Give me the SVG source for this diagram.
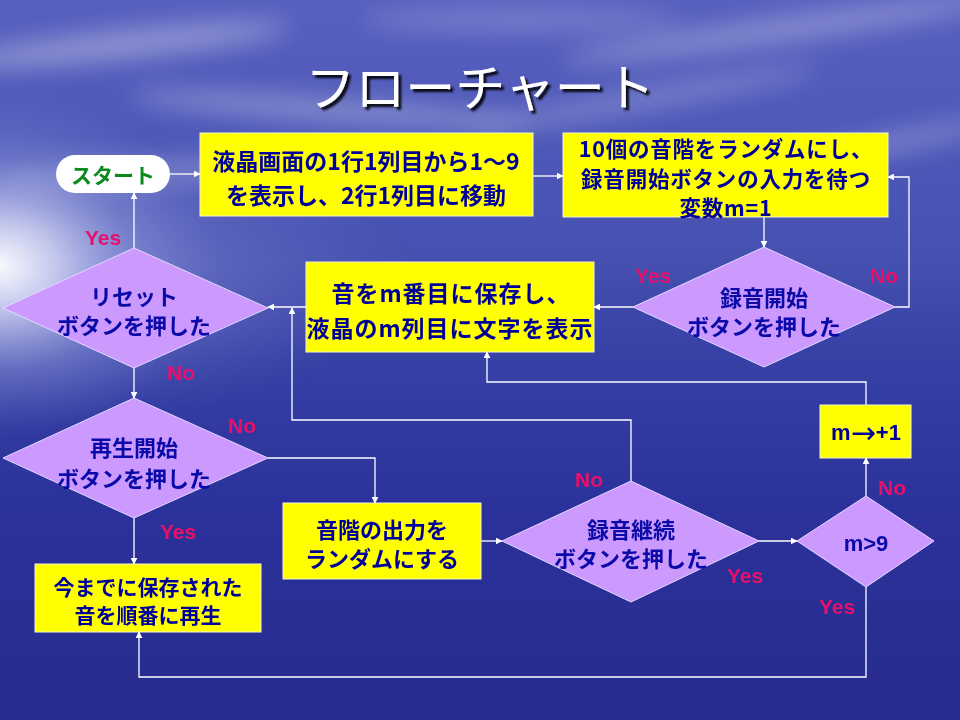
<svg xmlns="http://www.w3.org/2000/svg" width="960" height="720" viewBox="0 0 960 720">
<defs>
<linearGradient id="bg" x1="0" y1="0" x2="0" y2="1">
<stop offset="0" stop-color="#5860bf"/>
<stop offset="0.2" stop-color="#4e58b8"/>
<stop offset="0.36" stop-color="#4650b0"/>
<stop offset="0.5" stop-color="#3640a5"/>
<stop offset="0.7" stop-color="#2c329b"/>
<stop offset="1" stop-color="#272b8f"/>
</linearGradient>
<radialGradient id="glow" gradientUnits="userSpaceOnUse" cx="0" cy="265" r="220" gradientTransform="translate(0,265) scale(1,0.8) translate(0,-265)">
<stop offset="0" stop-color="#ffffff" stop-opacity="0.95"/>
<stop offset="0.25" stop-color="#eef0ff" stop-opacity="0.65"/>
<stop offset="0.6" stop-color="#b0b8ec" stop-opacity="0.25"/>
<stop offset="1" stop-color="#8890d8" stop-opacity="0"/>
</radialGradient>
<radialGradient id="band" gradientUnits="userSpaceOnUse" cx="0" cy="280" r="420" gradientTransform="translate(0,280) scale(1,0.35) translate(0,-280)">
<stop offset="0" stop-color="#d8dcff" stop-opacity="0.45"/>
<stop offset="1" stop-color="#8890d8" stop-opacity="0"/>
</radialGradient>
<filter id="blur" x="-50%" y="-50%" width="200%" height="200%"><feGaussianBlur stdDeviation="12"/></filter>
<filter id="shadow" x="-10%" y="-20%" width="120%" height="140%"><feDropShadow dx="3" dy="3" stdDeviation="1" flood-color="#000000" flood-opacity="0.9"/></filter>
<marker id="ah" viewBox="0 0 10 10" refX="9" refY="5" markerWidth="7" markerHeight="7" orient="auto" markerUnits="userSpaceOnUse">
<path d="M0,0 L10,5 L0,10 z" fill="#ffffff"/>
</marker>
<style>
.box{fill:#ffff00;stroke:#f4f4d0;stroke-width:1}
.dia{fill:#cc99ff;stroke:#e6d8ff;stroke-width:1}
.jp{font-family:"Noto Sans CJK JP","Noto Sans CJK SC",sans-serif;font-weight:bold;fill:#000099;text-anchor:middle;dominant-baseline:central}
.dj{fill:#0a0aa8}
.lat{font-family:"Liberation Sans",Arial,sans-serif;font-weight:bold;fill:#000099;text-anchor:middle}
.lbl{font-family:"Liberation Sans",Arial,sans-serif;font-weight:bold;fill:#e8106a;font-size:21px;text-anchor:middle;dominant-baseline:central}
.con{fill:none;stroke:#ffffff;stroke-width:1.3}
</style>
</defs>
<g id="background">
<rect x="0" y="0" width="960" height="720" fill="url(#bg)"/>
<g filter="url(#blur)" fill="#ffffff">
<ellipse cx="120" cy="45" rx="170" ry="14" opacity="0.35" transform="rotate(-6 120 45)"/>
<ellipse cx="330" cy="110" rx="200" ry="12" opacity="0.3" transform="rotate(4 330 110)"/>
<ellipse cx="780" cy="30" rx="220" ry="12" opacity="0.3" transform="rotate(-8 780 30)"/>
<ellipse cx="640" cy="100" rx="180" ry="10" opacity="0.25" transform="rotate(-10 640 100)"/>
<ellipse cx="860" cy="150" rx="150" ry="10" opacity="0.28" transform="rotate(-12 860 150)"/>
<ellipse cx="520" cy="20" rx="160" ry="9" opacity="0.25"/>
<ellipse cx="200" cy="170" rx="200" ry="14" opacity="0.22" transform="rotate(-3 200 170)"/>
</g>
<rect x="0" y="0" width="960" height="720" fill="url(#band)"/>
<rect x="0" y="0" width="960" height="720" fill="url(#glow)"/>
</g>
<g id="title">
<text x="480" y="84" font-family="'Noto Sans CJK JP',sans-serif" font-size="50" fill="#ffffff" text-anchor="middle" dominant-baseline="central" filter="url(#shadow)">フローチャート</text>
</g>
<g id="connectors">
<path class="con" d="M170,174 L200,174" marker-end="url(#ah)"/>
<path class="con" d="M533,176 L563,176" marker-end="url(#ah)"/>
<path class="con" d="M764,217 L764,247" marker-end="url(#ah)"/>
<path class="con" d="M895,307 L909,307 L909,177 L888,177" marker-end="url(#ah)"/>
<path class="con" d="M633,307 L594,307" marker-end="url(#ah)"/>
<path class="con" d="M306,307 L268,307" marker-end="url(#ah)"/>
<path class="con" d="M134,248 L134,193" marker-end="url(#ah)"/>
<path class="con" d="M134,368 L134,398" marker-end="url(#ah)"/>
<path class="con" d="M268,458 L375,458 L375,503" marker-end="url(#ah)"/>
<path class="con" d="M134,518 L134,564" marker-end="url(#ah)"/>
<path class="con" d="M481,541 L502,541" marker-end="url(#ah)"/>
<path class="con" d="M631,481 L631,420 L292,420 L292,308" marker-end="url(#ah)"/>
<path class="con" d="M759,541 L797,541" marker-end="url(#ah)"/>
<path class="con" d="M866,496 L866,458" marker-end="url(#ah)"/>
<path class="con" d="M866,405 L866,382 L487,382 L487,352" marker-end="url(#ah)"/>
<path class="con" d="M866,587 L866,677 L139,677 L139,632" marker-end="url(#ah)"/>
</g>
<g id="labels">
<text class="lbl" x="103" y="237">Yes</text>
<text class="lbl" x="181" y="372">No</text>
<text class="lbl" x="653" y="275">Yes</text>
<text class="lbl" x="884" y="275">No</text>
<text class="lbl" x="242" y="425">No</text>
<text class="lbl" x="178" y="531">Yes</text>
<text class="lbl" x="589" y="479">No</text>
<text class="lbl" x="745" y="575">Yes</text>
<text class="lbl" x="892" y="487">No</text>
<text class="lbl" x="837" y="606">Yes</text>
</g>
<g id="start">
<rect x="56" y="155" width="114" height="38" rx="19" fill="#ffffff"/>
<text class="jp" x="113" y="174" font-size="21" style="fill:#0a8a1e">スタート</text>
</g>
<g id="init-lcd">
<rect class="box" x="200" y="133" width="333" height="83"/>
<text class="jp" x="366" y="160" font-size="23">液晶画面の1行1列目から1～9</text>
<text class="jp" x="366" y="194" font-size="23">を表示し、2行1列目に移動</text>
</g>
<g id="randomize">
<rect class="box" x="563" y="133" width="325" height="84"/>
<text class="jp" x="726" y="147" font-size="21.5" letter-spacing="0.8">10個の音階をランダムにし、</text>
<text class="jp" x="726" y="177" font-size="21.5" letter-spacing="0.8">録音開始ボタンの入力を待つ</text>
<text class="jp" x="726" y="206" font-size="21.5" letter-spacing="0.8">変数m=1</text>
</g>
<g id="rec-start">
<polygon class="dia" points="764,247 895,307 764,367 633,307"/>
<text class="jp dj" x="764" y="296" font-size="22">録音開始</text>
<text class="jp dj" x="764" y="325" font-size="22">ボタンを押した</text>
</g>
<g id="save-note">
<rect class="box" x="306" y="262" width="288" height="90"/>
<text class="jp" x="451" y="292" font-size="23" letter-spacing="1">音をm番目に保存し、</text>
<text class="jp" x="450" y="327" font-size="23" letter-spacing="1">液晶のm列目に文字を表示</text>
</g>
<g id="reset">
<polygon class="dia" points="134,248 268,308 134,368 3,308"/>
<text class="jp dj" x="134" y="295" font-size="22">リセット</text>
<text class="jp dj" x="134" y="324" font-size="22">ボタンを押した</text>
</g>
<g id="play-start">
<polygon class="dia" points="134,398 268,458 134,518 3,458"/>
<text class="jp dj" x="134" y="446" font-size="22">再生開始</text>
<text class="jp dj" x="134" y="477" font-size="22">ボタンを押した</text>
</g>
<g id="play-all">
<rect class="box" x="35" y="564" width="226" height="68"/>
<text class="jp" x="148" y="586" font-size="21">今までに保存された</text>
<text class="jp" x="148" y="614" font-size="21">音を順番に再生</text>
</g>
<g id="random-out">
<rect class="box" x="283" y="503" width="198" height="76"/>
<text class="jp" x="382" y="528" font-size="22">音階の出力を</text>
<text class="jp" x="382" y="557" font-size="22">ランダムにする</text>
</g>
<g id="rec-continue">
<polygon class="dia" points="631,481 759,541 631,602 502,541"/>
<text class="jp dj" x="631" y="528" font-size="22">録音継続</text>
<text class="jp dj" x="631" y="557" font-size="22">ボタンを押した</text>
</g>
<g id="m-check">
<polygon class="dia" points="866,496 934,541 866,587 797,541"/>
<text class="lat" x="866" y="551" font-size="22" style="fill:#0a0aa8">m&gt;9</text>
</g>
<g id="m-inc">
<rect class="box" x="820" y="405" width="91" height="53"/>
<text class="lat" x="866" y="440" font-size="22">m<tspan font-family="'DejaVu Sans',sans-serif" font-weight="normal" font-size="30" dy="3">→</tspan><tspan dy="-3">+1</tspan></text>
</g>
</svg>
